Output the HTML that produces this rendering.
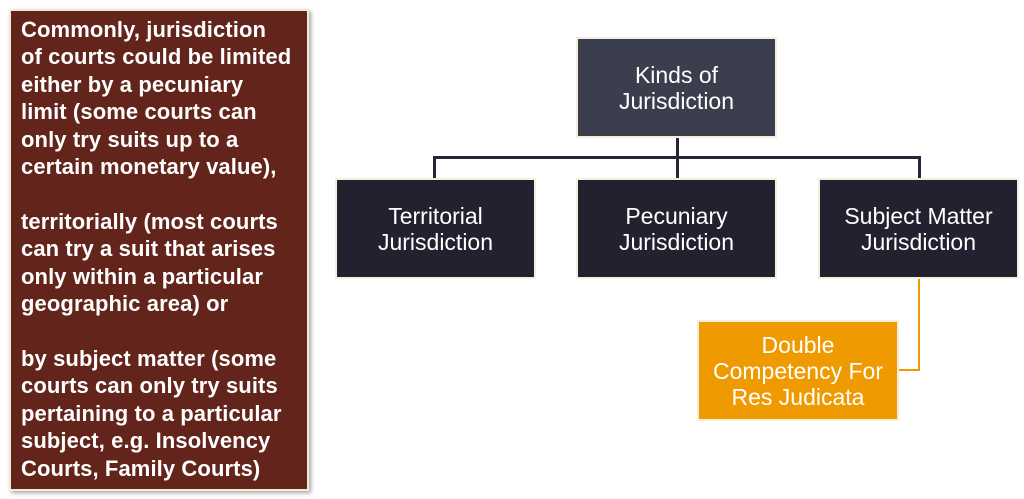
<!DOCTYPE html>
<html><head><style>
body{margin:0;width:1024px;height:499px;background:#fff;position:relative;overflow:hidden;font-family:"Liberation Sans",sans-serif}
.b{position:absolute;box-sizing:border-box;border:2px solid #f5eedc;color:#fff;display:flex;align-items:center;justify-content:center;text-align:center;font-size:23px;line-height:26px}
.l{position:absolute}
#left{position:absolute;left:9px;top:9px;width:300px;height:482px;box-sizing:border-box;background:#63241b;border:2px solid #f3ead6;box-shadow:2px 2px 4px rgba(0,0,0,.35);color:#fff;font-weight:bold;font-size:22px;line-height:27.4px;padding:5px 0 0 10px;white-space:nowrap;letter-spacing:0.1px}
</style></head><body>
<div id="left">Commonly, jurisdiction<br>of courts could be limited<br>either by a pecuniary<br>limit (some courts can<br>only try suits up to a<br>certain monetary value),<br><br>territorially (most courts<br>can try a suit that arises<br>only within a particular<br>geographic area) or<br><br>by subject matter (some<br>courts can only try suits<br>pertaining to a particular<br>subject, e.g. Insolvency<br>Courts, Family Courts)</div>
<div class="l" style="left:676px;top:137px;width:3px;height:42px;background:#262636"></div>
<div class="l" style="left:433px;top:156px;width:488px;height:3px;background:#262636"></div>
<div class="l" style="left:433px;top:156px;width:3px;height:23px;background:#262636"></div>
<div class="l" style="left:918px;top:156px;width:3px;height:23px;background:#262636"></div>
<div class="l" style="left:918px;top:277px;width:2px;height:94px;background:#ef9a00"></div>
<div class="l" style="left:897px;top:369px;width:23px;height:2px;background:#ef9a00"></div>
<div class="b" style="left:576px;top:37px;width:201px;height:101px;background:#3b3e4c">Kinds of<br>Jurisdiction</div>
<div class="b" style="left:335px;top:178px;width:201px;height:101px;background:#21212f">Territorial<br>Jurisdiction</div>
<div class="b" style="left:576px;top:178px;width:201px;height:101px;background:#21212f">Pecuniary<br>Jurisdiction</div>
<div class="b" style="left:818px;top:178px;width:201px;height:101px;background:#21212f">Subject Matter<br>Jurisdiction</div>
<div class="b" style="left:697px;top:320px;width:202px;height:101px;background:#ef9a00">Double<br>Competency For<br>Res Judicata</div>
</body></html>
